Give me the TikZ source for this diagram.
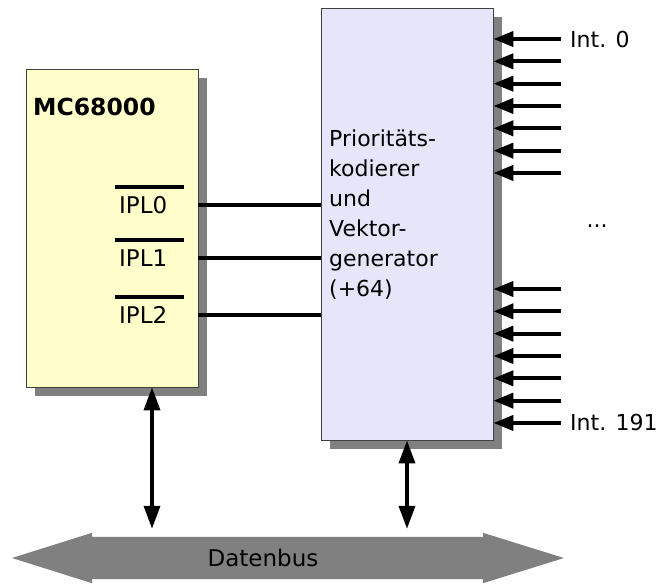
\documentclass[tikz,border=0pt]{standalone}
\usepackage{fontspec}
\setmainfont{DejaVu Sans}[BoldFont={DejaVu Sans Bold}]
\usetikzlibrary{arrows.meta,positioning,shadows,backgrounds}
\definecolor{chipyellow}{RGB}{255,255,204}
\definecolor{encoderblue}{RGB}{230,230,250}
\definecolor{shadowgray}{RGB}{128,128,128}

\begin{document}
\begin{tikzpicture}[x=1pt, y=-1pt,
    block/.style={draw=black!75, line width=0.8pt, minimum width=172pt, inner sep=0pt,
        drop shadow={shadow xshift=9pt, shadow yshift=-9pt, fill=shadowgray, opacity=1}},
    lbl/.style={font=\fontsize{22}{30}\selectfont, inner sep=0pt},
    wire/.style={line width=4pt},
    inarrow/.style={line width=4pt, -{Triangle[length=20pt,width=15pt]}},
    busarrow/.style={line width=3.5pt, {Triangle[length=23pt,width=16pt]}-{Triangle[length=23pt,width=16pt]}}]
    \useasboundingbox (0,0) rectangle (669,584);

    % the two chips
    \node[block, fill=chipyellow, minimum height=318pt] (mc) at (112,228) {};
    \node[block, fill=encoderblue, minimum height=432pt] (vg) at (407,224) {};

    \node[lbl, font=\fontsize{23.5}{28}\selectfont\bfseries, anchor=west] (mctitle) at (33,107) {MC68000};
    \node[lbl, anchor=north west, align=left] (vgtext) at (329,130) {Prioritäts-\\kodierer\\und\\Vektor-\\generator\\(+64)};

    % interrupt lines IPL0..2
    \foreach \n/\y in {0/205,1/258,2/315} {
        \node[lbl, font=\fontsize{23}{30}\selectfont, anchor=west] (ipl\n) at (119,\y) {IPL\n};
        \draw[wire] ([shift={(-4,-18)}]ipl\n.west) -- ++(69,0);
        \draw[wire] (ipl\n.west -| mc.east) -- (ipl\n.west -| vg.west);
    }

    % interrupt inputs
    \foreach \i in {0,...,6} {
        \coordinate (a\i) at (561,39+22.33*\i);
        \coordinate (b\i) at (561,289+22.33*\i);
        \draw[inarrow] (a\i) -- (a\i -| vg.east);
        \draw[inarrow] (b\i) -- (b\i -| vg.east);
    }
    \node[lbl, right=9pt of a0] (int0) {Int. 0};
    \node[lbl, right=9pt of b6] (int191) {Int. 191};
    \node[lbl] (dots) at (597,226) {...};

    % data bus
    \node[lbl, font=\fontsize{23}{28}\selectfont, minimum height=42pt] (bus) at (263,558) {Datenbus};
    \begin{pgfonlayer}{background}
        \fill[shadowgray] ([xshift=-171pt]bus.north) -- ([xshift=220pt]bus.north) -- ++(0,-4)
            -- ([xshift=301pt]bus.center) -- ([xshift=220pt,yshift=-4pt]bus.south) -- ([xshift=220pt]bus.south)
            -- ([xshift=-171pt]bus.south) -- ([xshift=-171pt,yshift=-4pt]bus.south)
            -- ([xshift=-251pt]bus.center) -- ([xshift=-171pt,yshift=4pt]bus.north) -- cycle;
    \end{pgfonlayer}

    \coordinate (mcbus) at ([xshift=40pt]mc.south);
    \draw[busarrow, shorten >=8pt] (mcbus) -- (mcbus |- bus.north);
    \draw[busarrow, shorten >=8pt] (vg.south) -- (vg.south |- bus.north);
\end{tikzpicture}
\end{document}
